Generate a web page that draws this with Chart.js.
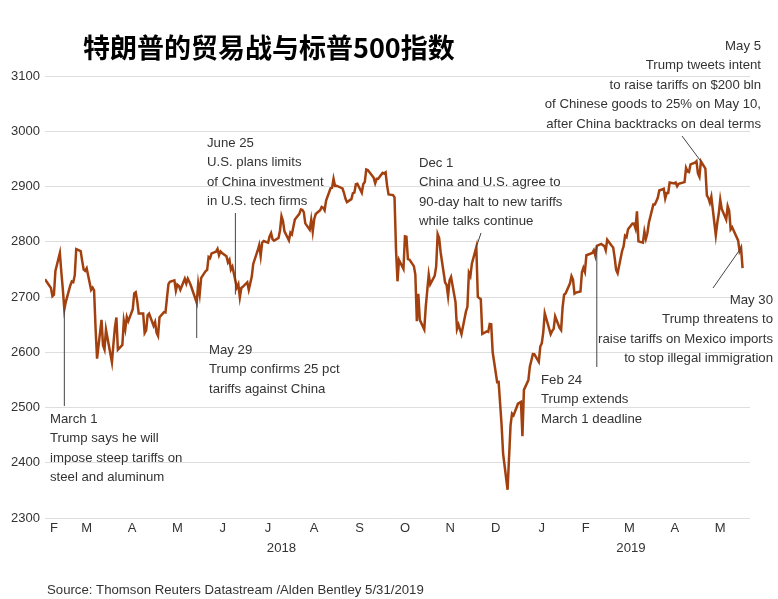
<!DOCTYPE html>
<html>
<head>
<meta charset="utf-8">
<script src="https://cdn.jsdelivr.net/npm/chart.js@4"></script>
<style>
  body { margin: 0; background: #fff; }
  #wrap { width: 778px; height: 599px; }
</style>
</head>
<body>
<div id="wrap"><canvas id="spxChart" width="778" height="599"></canvas></div>
<script>
// S&P 500 daily close
const dates2018 = [
  '02-16','02-20','02-21','02-22','02-23','02-26','02-27','02-28',
  '03-01','03-02','03-05','03-06','03-07','03-08','03-09','03-12','03-13','03-14','03-15','03-16','03-19','03-20','03-21','03-22','03-23','03-26','03-27','03-28','03-29',
  '04-02','04-03','04-04','04-05','04-06','04-09','04-10','04-11','04-12','04-13','04-16','04-17','04-18','04-19','04-20','04-23','04-24','04-25','04-26','04-27','04-30',
  '05-01','05-02','05-03','05-04','05-07','05-08','05-09','05-10','05-11','05-14','05-15','05-16','05-17','05-18','05-21','05-22','05-23','05-24','05-25','05-29','05-30','05-31',
  '06-01','06-04','06-05','06-06','06-07','06-08','06-11','06-12','06-13','06-14','06-15','06-18','06-19','06-20','06-21','06-22','06-25','06-26','06-27','06-28','06-29',
  '07-02','07-03','07-05','07-06','07-09','07-10','07-11','07-12','07-13','07-16','07-17','07-18','07-19','07-20','07-23','07-24','07-25','07-26','07-27','07-30','07-31',
  '08-01','08-02','08-03','08-06','08-07','08-08','08-09','08-10','08-13','08-14','08-15','08-16','08-17','08-20','08-21','08-22','08-23','08-24','08-27','08-28','08-29','08-30','08-31',
  '09-04','09-05','09-06','09-07','09-10','09-11','09-12','09-13','09-14','09-17','09-18','09-19','09-20','09-21','09-24','09-25','09-26','09-27','09-28',
  '10-01','10-02','10-03','10-04','10-05','10-08','10-09','10-10','10-11','10-12','10-15','10-16','10-17','10-18','10-19','10-22','10-23','10-24','10-25','10-26','10-29','10-30','10-31',
  '11-01','11-02','11-05','11-06','11-07','11-08','11-09','11-12','11-13','11-14','11-15','11-16','11-19','11-20','11-21','11-23','11-26','11-27','11-28','11-29','11-30',
  '12-03','12-04','12-06','12-07','12-10','12-11','12-12','12-13','12-14','12-17','12-18','12-19','12-20','12-21','12-24','12-26','12-27','12-28','12-31'
]
const close2018 = [
  2732.2,2716.3,2701.3,2704.0,2747.3,2779.6,2744.3,2713.8,
  2677.7,2691.3,2720.9,2728.1,2726.8,2739.0,2786.6,2783.0,2765.3,2749.5,2747.3,2752.0,2712.9,2716.9,2711.9,2643.7,2588.3,2658.6,2612.6,2605.0,2640.9,
  2581.9,2614.5,2644.7,2662.8,2604.5,2613.2,2656.9,2642.2,2664.0,2656.3,2677.8,2706.4,2708.6,2693.1,2670.1,2670.3,2634.6,2639.4,2666.9,2669.9,2648.1,
  2654.8,2635.7,2629.7,2663.4,2672.6,2671.9,2697.8,2723.1,2727.7,2730.1,2711.5,2722.5,2720.1,2713.0,2733.0,2724.4,2733.3,2727.8,2721.3,2689.9,2724.0,2705.3,
  2734.6,2746.9,2748.8,2772.4,2770.4,2779.0,2782.0,2786.9,2775.6,2782.5,2779.7,2773.8,2762.6,2767.3,2749.8,2754.9,2717.1,2723.1,2699.6,2716.3,2718.4,
  2726.7,2713.2,2736.6,2759.8,2784.2,2793.8,2774.0,2798.3,2801.3,2798.4,2809.6,2815.6,2804.5,2801.8,2807.0,2820.4,2846.1,2837.4,2818.8,2802.6,2816.3,
  2813.4,2827.2,2840.4,2850.4,2858.5,2857.7,2853.6,2833.3,2821.9,2840.0,2818.4,2840.7,2850.1,2857.1,2863.0,2861.8,2857.0,2874.7,2896.7,2897.5,2914.0,2901.1,2901.5,
  2896.7,2888.6,2878.1,2871.7,2877.1,2887.9,2888.9,2904.2,2905.0,2888.8,2904.3,2908.0,2930.8,2929.7,2919.4,2915.6,2906.0,2914.0,2914.0,
  2924.6,2923.4,2925.5,2901.6,2885.6,2884.4,2880.3,2785.7,2728.4,2767.1,2750.8,2809.9,2809.2,2768.8,2767.8,2755.9,2740.7,2656.1,2705.6,2658.7,2641.3,2682.6,2711.7,
  2740.4,2723.1,2738.3,2755.5,2813.9,2806.8,2781.0,2726.2,2722.2,2701.6,2730.2,2736.3,2690.7,2641.9,2649.9,2632.6,2673.5,2682.2,2743.8,2737.8,2760.2,
  2790.4,2700.1,2696.0,2633.1,2637.7,2636.8,2651.1,2650.5,2600.0,2545.9,2546.2,2507.0,2467.4,2416.6,2351.1,2467.7,2488.8,2485.7,2506.9
]
const dates2019 = [
  '01-02','01-03','01-04','01-07','01-08','01-09','01-10','01-11','01-14','01-15','01-16','01-17','01-18','01-22','01-23','01-24','01-25','01-28','01-29','01-30','01-31',
  '02-01','02-04','02-05','02-06','02-07','02-08','02-11','02-12','02-13','02-14','02-15','02-19','02-20','02-21','02-22','02-25','02-26','02-27','02-28',
  '03-01','03-04','03-05','03-06','03-07','03-08','03-11','03-12','03-13','03-14','03-15','03-18','03-19','03-20','03-21','03-22','03-25','03-26','03-27','03-28','03-29',
  '04-01','04-02','04-03','04-04','04-05','04-08','04-09','04-10','04-11','04-12','04-15','04-16','04-17','04-18','04-22','04-23','04-24','04-25','04-26','04-29','04-30',
  '05-01','05-02','05-03','05-06','05-07','05-08','05-09','05-10','05-13','05-14','05-15','05-16','05-17','05-20','05-21','05-22','05-23','05-24','05-28','05-29','05-30','05-31'
]
const close2019 = [
  2510.0,2447.9,2531.9,2549.7,2574.4,2585.0,2596.6,2596.3,2582.6,2610.3,2616.1,2636.0,2670.7,2632.9,2638.7,2642.3,2664.8,2643.9,2640.0,2681.1,2704.1,
  2706.5,2724.9,2737.7,2731.6,2706.1,2707.9,2709.8,2744.7,2753.0,2745.7,2775.6,2779.8,2784.7,2774.9,2792.7,2796.1,2793.9,2792.4,2784.5,
  2803.7,2792.8,2789.7,2771.5,2748.9,2743.1,2783.3,2791.5,2810.9,2808.5,2822.5,2832.9,2832.6,2824.2,2854.9,2800.7,2798.4,2818.5,2805.4,2815.4,2834.4,
  2867.2,2867.2,2873.4,2879.4,2892.7,2895.8,2878.2,2888.2,2888.3,2907.4,2905.6,2907.1,2900.5,2905.0,2908.0,2933.7,2927.3,2926.2,2939.9,2943.0,2945.8,
  2923.7,2917.5,2945.6,2932.5,2884.1,2879.4,2870.7,2881.4,2811.9,2834.4,2851.0,2876.3,2859.5,2840.2,2864.4,2856.3,2822.2,2826.1,2802.4,2783.0,2788.9,2752.1
]
const monthLabels = ['F','M','A','M','J','J','A','S','O','N','D','J','F','M','A','M']
const yearLabels = ['2018', '2019']
const yTicks = [2300, 2400, 2500, 2600, 2700, 2800, 2900, 3000, 3100]

const notes = [
  { lines: ['March 1', 'Trump says he will', 'impose steep tariffs on', 'steel and aluminum'],
    x: 50, y: 419, align: 'left', date: '2018-03-01', gap: 0, toY: 406 },
  { lines: ['May 29', 'Trump confirms 25 pct', 'tariffs against China'],
    x: 209, y: 350, align: 'left', date: '2018-05-29', gap: 0, toY: 338 },
  { lines: ['June 25', 'U.S. plans limits', 'of China investment', 'in U.S. tech firms'],
    x: 207, y: 143, align: 'left', date: '2018-06-24', gap: -14, toY: 213 },
  { lines: ['Dec 1', 'China and U.S. agree to', '90-day halt to new tariffs', 'while talks continue'],
    x: 419, y: 163, align: 'left', date: '2018-12-03', gap: 0, toX: 481, toY: 233 },
  { lines: ['May 5', 'Trump tweets intent', 'to raise tariffs on $200 bln', 'of Chinese goods to 25% on May 10,', 'after China backtracks on deal terms'],
    x: 761, y: 46, align: 'right', date: '2019-05-03', gap: 0, toX: 682, toY: 136 },
  { lines: ['Feb 24', 'Trump extends', 'March 1 deadline'],
    x: 541, y: 380, align: 'left', date: '2019-02-22', gap: 0, toY: 367 },
  { lines: ['May 30', 'Trump threatens to', 'raise tariffs on Mexico imports', 'to stop illegal immigration'],
    x: 773, y: 300, align: 'right', date: '2019-05-30', gap: 0, toX: 713, toY: 288 }
]

const DAY = 86400000
const start = Date.UTC(2018, 1, 16)
function dayNum(s) {
  const [y, m, d] = s.split('-').map(Number)
  return (Date.UTC(y, m - 1, d) - start) / DAY
}

const points = dates2018.map((md, i) => ({ x: dayNum('2018-' + md), y: close2018[i] }))
  .concat(dates2019.map((md, i) => ({ x: dayNum('2019-' + md), y: close2019[i] })))
const lastDay = points[points.length - 1].x

function valueAt(day) {
  for (let i = 1; i < points.length; i++) {
    if (points[i].x >= day) {
      const a = points[i - 1], b = points[i]
      return a.y + (b.y - a.y) * (day - a.x) / (b.x - a.x)
    }
  }
  return points[points.length - 1].y
}

// month label positions: middle of the visible part of each month
const monthTicks = []
for (let k = 0; k < monthLabels.length; k++) {
  const y = 2018 + Math.floor((1 + k) / 12), m = (1 + k) % 12
  const s = Math.max(0, (Date.UTC(y, m, 1) - start) / DAY)
  const e = Math.min(lastDay, (Date.UTC(y, m + 1, 0) - start) / DAY)
  monthTicks.push((s + e) / 2)
}
const yearCenters = [
  (0 + dayNum('2018-12-31')) / 2,
  (dayNum('2019-01-01') + lastDay) / 2
]

const textFont = '13.2px "Liberation Sans", Arial, sans-serif'
const textColor = '#333'

const overlay = {
  id: 'overlay',
  afterDraw(chart) {
    const ctx = chart.ctx
    const xs = chart.scales.x, ys = chart.scales.y
    ctx.save()
    ctx.textBaseline = 'middle'

    ctx.font = 'bold 27px "Noto Sans CJK SC", sans-serif'
    ctx.fillStyle = '#000'
    ctx.textAlign = 'left'
    ctx.fillText('特朗普的贸易战与标普500指数', 83, 48)

    ctx.font = textFont
    ctx.fillStyle = textColor
    ctx.fillText('Source: Thomson Reuters Datastream /Alden Bentley 5/31/2019', 47, 590)

    ctx.textAlign = 'center'
    yearLabels.forEach((t, i) => ctx.fillText(t, xs.getPixelForValue(yearCenters[i]), 548))

    notes.forEach(n => {
      ctx.textAlign = n.align
      n.lines.forEach((t, i) => ctx.fillText(t, n.x, n.y + i * 19.5))
      const d = dayNum(n.date)
      const px = xs.getPixelForValue(d)
      const py = ys.getPixelForValue(valueAt(d))
      const dir = n.toY > py ? 1 : -1
      ctx.beginPath()
      ctx.strokeStyle = '#444'
      ctx.lineWidth = 1
      ctx.moveTo(px, py + dir * n.gap)
      ctx.lineTo(n.toX !== undefined ? n.toX : px, n.toY)
      ctx.stroke()
    })
    ctx.restore()
  }
}

new Chart(document.getElementById('spxChart').getContext('2d'), {
  type: 'line',
  data: {
    datasets: [{
      data: points,
      borderColor: '#a2410f',
      borderWidth: 2.5,
      pointRadius: 0,
      tension: 0,
      fill: false
    }]
  },
  options: {
    responsive: false,
    animation: false,
    events: [],
    layout: { padding: { top: 76, right: 28, left: 0, bottom: 0 } },
    plugins: { legend: { display: false }, tooltip: { enabled: false } },
    scales: {
      x: {
        type: 'linear',
        min: 0,
        max: 474,
        grid: { display: false, drawTicks: false },
        border: { display: false },
        afterBuildTicks: s => { s.ticks = monthTicks.map(v => ({ value: v })) },
        afterFit: s => { s.height = 81 },
        ticks: {
          autoSkip: false,
          maxRotation: 0,
          minRotation: 0,
          padding: 3,
          color: textColor,
          font: { family: '"Liberation Sans", Arial, sans-serif', size: 13 },
          callback: (v, i) => monthLabels[i]
        }
      },
      y: {
        min: 2300,
        max: 3100,
        afterBuildTicks: s => { s.ticks = yTicks.map(v => ({ value: v })) },
        afterFit: s => { s.width = 45 },
        grid: { color: '#dedede', drawTicks: false },
        border: { display: false },
        ticks: {
          padding: 5,
          color: textColor,
          font: { family: '"Liberation Sans", Arial, sans-serif', size: 13 },
          callback: v => String(v)
        }
      }
    }
  },
  plugins: [overlay]
})
</script>
</body>
</html>
